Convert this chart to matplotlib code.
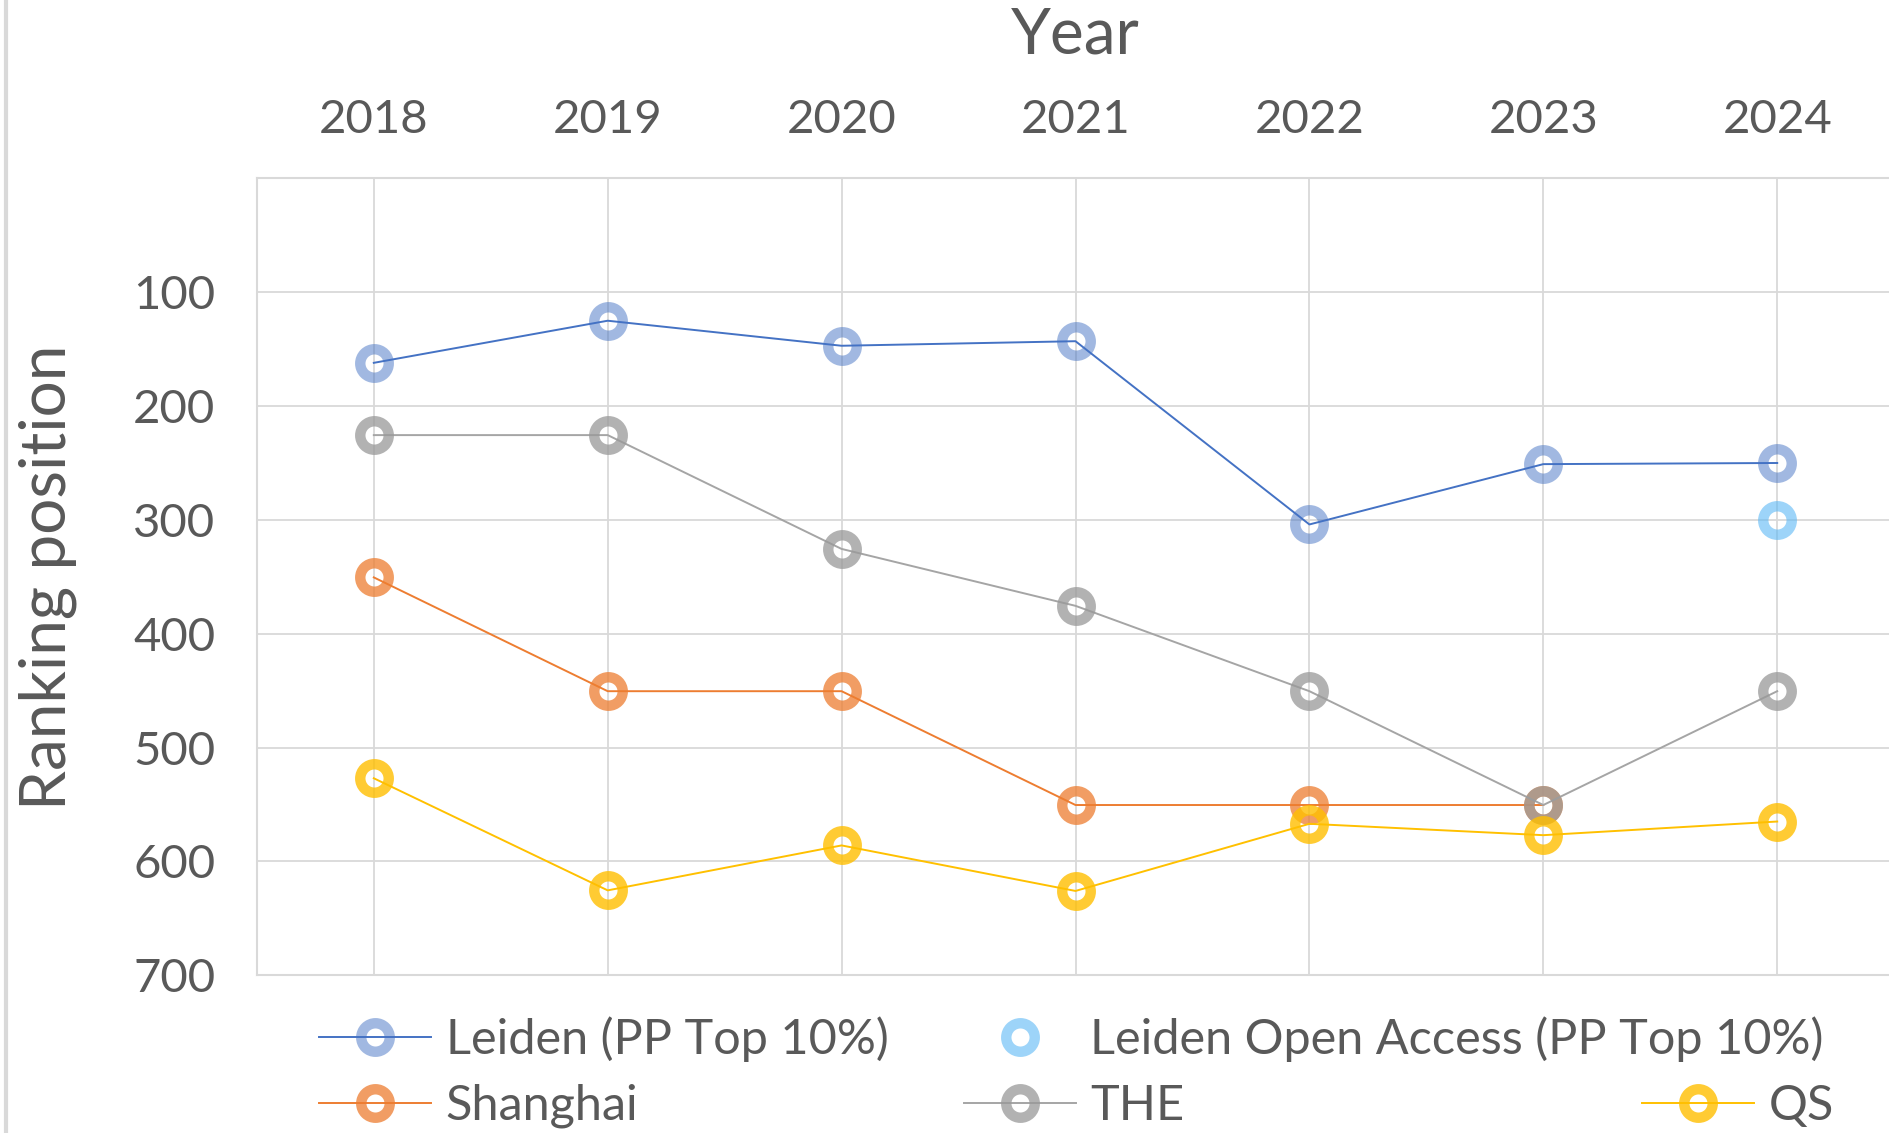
import matplotlib.pyplot as plt
from matplotlib.lines import Line2D

# ranking data (lower = better)
years = [2018, 2019, 2020, 2021, 2022, 2023, 2024]
leiden = [162, 125, 147, 143, 304, 251, 250]
leiden_oa_years = [2024]
leiden_oa = [300]
shanghai_years = [2018, 2019, 2020, 2021, 2022, 2023]
shanghai = [350.5, 450.5, 450.5, 550.5, 550.5, 550.5]
the = [225.5, 225.5, 325.5, 375.5, 450.5, 550.5, 450.5]
qs = [527, 625.5, 586, 626, 567, 577, 565]
yticks = [100, 200, 300, 400, 500, 600, 700]

plt.rcParams['font.family'] = ['Lato', 'DejaVu Sans']
txt = '#595959'
grid = '#d9d9d9'

fig = plt.figure(figsize=(18.9, 11.33), dpi=100)
ax = fig.add_axes([0.1359, 0.1393, 0.8663, 0.7032])

ms = 20.5   # marker size (pt)
mew = 7.5   # ring thickness (pt)

def series(x, y, line, ring, label, lw=1.4, ls='-'):
    h, = ax.plot(x, y, color=line, lw=lw, linestyle=ls, marker='o', markersize=ms,
                 markerfacecolor='none', markeredgecolor=ring, markeredgewidth=mew,
                 label=label)
    return h

h1 = series(years, leiden, '#4472c4', (0.27, 0.45, 0.77, 0.5), 'Leiden (PP Top 10%)')
h2 = series(leiden_oa_years, leiden_oa, 'none', (0.36, 0.72, 0.96, 0.6), 'Leiden Open Access (PP Top 10%)', ls='none')
h3 = series(shanghai_years, shanghai, '#ed7d31', (0.93, 0.49, 0.19, 0.75), 'Shanghai')
h4 = series(years, the, '#a5a5a5', (0.60, 0.60, 0.60, 0.75), 'THE')
h5 = series(years, qs, '#ffc000', (1.0, 0.75, 0.0, 0.8), 'QS')

ax.set_xlim(2017.5, 2024.5)
ax.set_ylim(700, 0)
ax.set_xticks(years)
ax.set_yticks(yticks)
ax.xaxis.tick_top()
ax.tick_params(axis='both', length=0, labelsize=34, labelcolor=txt)
ax.tick_params(axis='x', pad=27)
ax.tick_params(axis='y', pad=30)
ax.grid(True, color=grid, lw=1.3)
ax.set_axisbelow(True)
for s in ax.spines.values():
    s.set_color(grid)
    s.set_linewidth(1.5)

fig.text(1075 / 1890, 1 - 36 / 1133, 'Year', ha='center', va='center', fontsize=46, color=txt)
fig.text(48 / 1890, 1 - 577 / 1133, 'Ranking position', ha='center', va='center',
         rotation=90, fontsize=46, color=txt)

# left border line of the original picture
fig.add_artist(Line2D([0.0032, 0.0032], [0, 1], color=grid, lw=3, transform=fig.transFigure))

# legend laid out like the original: two entries on row 1, three on row 2
entries = [(h1, 0.169, 0.083), (h2, 0.510, 0.083),
           (h3, 0.169, 0.024), (h4, 0.510, 0.024), (h5, 0.869, 0.024)]
for h, x, y in entries:
    lg = fig.legend(handles=[h], loc='center left', bbox_to_anchor=(x, y), frameon=False,
                    fontsize=35, labelcolor=txt, handlelength=2.3, handletextpad=0.3,
                    borderpad=0, borderaxespad=0, numpoints=1)

fig.savefig('out.png', dpi=100)
